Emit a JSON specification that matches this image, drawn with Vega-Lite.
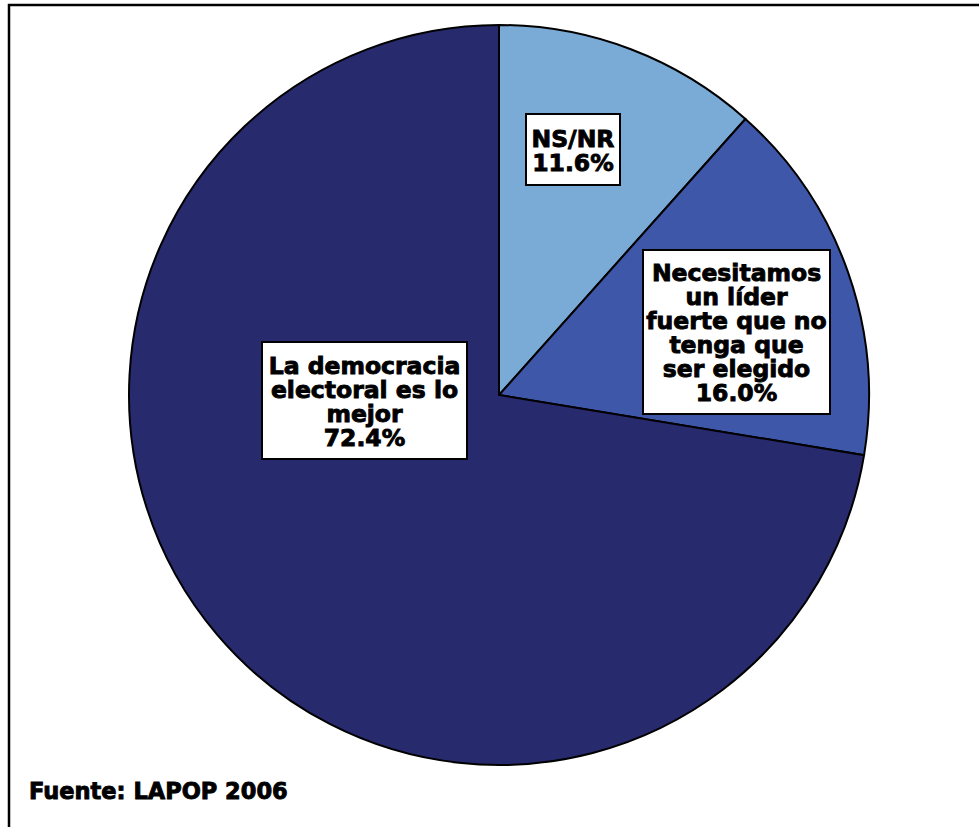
{
  "$schema": "https://vega.github.io/schema/vega-lite/v6.json",
  "width": 979,
  "height": 827,
  "autosize": {"type": "fit", "contains": "padding"},
  "padding": {"left": 9, "top": 5, "right": -3, "bottom": -3},
  "background": "white",
  "view": {"stroke": "black", "strokeWidth": 2.5, "fill": "white"},
  "config": {"font": "DejaVu Sans"},
  "layer": [
    {
      "data": {"values": [
        {"cat": "NS/NR", "pct": 11.6, "ord": 1},
        {"cat": "Necesitamos un líder fuerte que no tenga que ser elegido", "pct": 16.0, "ord": 2},
        {"cat": "La democracia electoral es lo mejor", "pct": 72.4, "ord": 3}
      ]},
      "mark": {"type": "arc", "outerRadius": 370, "stroke": "black", "strokeWidth": 2},
      "encoding": {
        "theta": {"field": "pct", "type": "quantitative", "stack": true},
        "order": {"field": "ord", "type": "quantitative"},
        "color": {"field": "cat", "type": "nominal", "legend": null,
          "scale": {"domain": ["NS/NR", "Necesitamos un líder fuerte que no tenga que ser elegido", "La democracia electoral es lo mejor"],
                    "range": ["#7aabd6", "#3e57a8", "#282a6e"]}},
        "x": {"datum": 0, "type": "quantitative", "scale": {"domain": [-490, 483], "nice": false, "zero": false}, "axis": null},
        "y": {"datum": 0, "type": "quantitative", "scale": {"domain": [-435, 390], "nice": false, "zero": false}, "axis": null}
      }
    },
    {
      "data": {"values": [
        {"x1": 27, "x2": 121, "y1": 210, "y2": 281},
        {"x1": 144, "x2": 331, "y1": -19, "y2": 145},
        {"x1": -237, "x2": -32, "y1": -64, "y2": 53}
      ]},
      "mark": {"type": "rect", "fill": "white", "stroke": "black", "strokeWidth": 2},
      "encoding": {
        "x": {"field": "x1", "type": "quantitative"},
        "x2": {"field": "x2"},
        "y": {"field": "y1", "type": "quantitative"},
        "y2": {"field": "y2"}
      }
    },
    {
      "data": {"values": [
        {"label": "NS/NR\n11.6%", "cx": 74, "cy": 248},
        {"label": "Necesitamos\nun líder\nfuerte que no\ntenga que\nser elegido\n16.0%", "cx": 237.5, "cy": 114},
        {"label": "La democracia\nelectoral es lo\nmejor\n72.4%", "cx": -134.5, "cy": 21}
      ]},
      "mark": {"type": "text", "lineBreak": "\n", "fontSize": 23.5, "fontWeight": "bold", "lineHeight": 24, "align": "center", "baseline": "alphabetic", "color": "black", "stroke": "black", "strokeWidth": 0.9},
      "encoding": {
        "x": {"field": "cx", "type": "quantitative"},
        "y": {"field": "cy", "type": "quantitative"},
        "text": {"field": "label"}
      }
    },
    {
      "data": {"values": [{"t": "Fuente: LAPOP 2006", "px": -470, "py": -404}]},
      "mark": {"type": "text", "fontSize": 22.5, "fontWeight": "bold", "align": "left", "baseline": "alphabetic", "color": "black", "stroke": "black", "strokeWidth": 0.9},
      "encoding": {
        "x": {"field": "px", "type": "quantitative"},
        "y": {"field": "py", "type": "quantitative"},
        "text": {"field": "t"}
      }
    }
  ]
}
